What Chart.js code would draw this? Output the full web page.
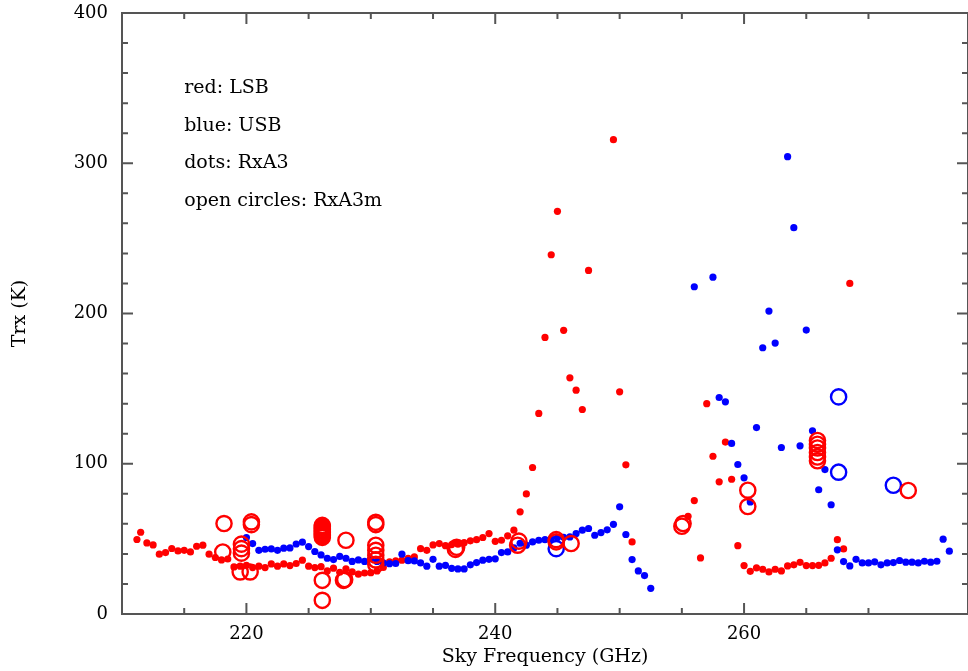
<!DOCTYPE html>
<html><head><meta charset="utf-8">
<script src="https://cdn.jsdelivr.net/npm/chart.js@4/dist/chart.umd.min.js"></script>
<style>html,body{margin:0;padding:0;background:#fff}canvas{display:block}</style>
</head><body>
<canvas id="c" width="968" height="671"></canvas>
<script>
// ---- data ----
const lsbDotFreq = [211.2,211.5,212,212.5,213,213.5,214,214.5,215,215.5,216,216.5,217,217.5,218,218.5,219,219.5,220,220.5,221,221.5,222,222.5,223,223.5,224,224.5,225,225.5,226,226.5,227,227.5,228,228.5,229,229.5,230,230.5,231,231.5,232,232.5,233,233.5,234,234.5,235,235.5,236,236.5,237,237.5,238,238.5,239,239.5,240,240.5,241,241.5,242,242.5,243,243.5,244,244.5,245,245.5,246,246.5,247,247.5,249.5,250,250.5,251,255.5,256,256.5,257,257.5,258,258.5,259,259.5,260,260.5,261,261.5,262,262.5,263,263.5,264,264.5,265,265.5,266,266.5,267,267.5,268,268.5];
const lsbDotTrx = [49.6,54.4,47.3,46.0,39.8,40.9,43.6,42.0,42.4,41.3,45.1,45.8,39.8,37.6,36.0,36.6,31.3,31.8,32.4,30.9,31.8,30.9,33.3,31.8,33.3,32.2,33.6,35.8,31.8,30.9,31.5,28.7,30.5,27.8,30.0,28.0,26.5,27.3,27.5,28.7,31.0,34.7,35.3,35.8,37.1,38.0,43.5,42.4,46.0,46.9,45.5,46.2,46.5,47.5,48.7,49.5,50.9,53.5,48.4,49.1,52.0,55.8,68.0,79.9,97.5,133.5,184.1,239.1,268.0,188.8,157.2,149.0,136.1,228.7,315.7,147.9,99.3,48.0,65.0,75.5,37.3,140.0,105.0,88.0,114.4,89.7,45.5,32.2,28.4,30.7,29.8,28.0,29.8,28.7,32.0,32.7,34.4,32.2,32.2,32.4,34.0,37.1,49.5,43.3,220.0];

const usbDotFreq = [220,220.5,221,221.5,222,222.5,223,223.5,224,224.5,225,225.5,226,226.5,227,227.5,228,228.5,229,229.5,230,230.5,231,231.5,232,232.5,233,233.5,234,234.5,235,235.5,236,236.5,237,237.5,238,238.5,239,239.5,240,240.5,241,241.5,242,242.5,243,243.5,244,244.5,245,245.5,246,246.5,247,247.5,248,248.5,249,249.5,250,250.5,251,251.5,252,252.5,256,257.5,258,258.5,259,259.5,260,260.5,261,261.5,262,262.5,263,263.5,264,264.5,265,265.5,266,266.5,267,267.5,268,268.5,269,269.5,270,270.5,271,271.5,272,272.5,273,273.5,274,274.5,275,275.5,276,276.5];
const usbDotTrx = [50.9,46.9,42.4,43.1,43.3,42.4,43.8,44.0,46.6,47.8,44.9,41.6,39.3,37.1,36.2,38.3,37.1,35.0,36.0,35.0,36.7,35.0,34.0,33.5,33.6,39.8,35.5,35.3,34.0,31.8,36.4,31.8,32.4,30.4,30.0,30.0,32.7,34.2,35.8,36.4,36.7,40.9,41.3,44.0,47.1,45.8,48.0,49.1,49.5,50.0,50.9,51.0,51.3,53.5,55.8,56.9,52.4,54.2,56.0,59.7,71.3,52.9,36.2,28.7,25.6,17.1,217.8,224.2,144.1,141.2,113.5,99.5,90.6,74.6,124.1,177.2,201.6,180.3,110.8,304.4,257.1,111.9,189.0,121.9,82.7,96.1,72.7,42.7,34.9,32.0,36.4,34.0,34.0,34.7,32.7,34.0,34.2,35.6,34.5,34.5,34.0,35.1,34.5,35.1,49.8,41.8];

const lsbCircleFreq = [218.2,218.1,219.6,219.6,219.6,219.5,220.4,220.4,220.3,226.1,226.1,226.1,226.1,226.1,226.1,226.1,226.1,226.1,226.1,226.1,228.0,227.9,227.8,230.4,230.4,230.4,230.4,230.4,230.4,230.4,236.9,236.8,241.8,241.9,244.9,244.9,246.1,255.0,255.1,260.3,260.3,265.9,265.9,265.9,265.9,265.9,265.9,273.2];
const lsbCircleTrx = [60.2,41.3,46.5,43.5,40.5,28.0,61.3,59.5,28.0,59.0,58.0,57.0,56.0,55.0,54.0,53.0,52.0,51.0,22.4,9.1,49.1,22.9,22.4,61.0,59.5,45.8,42.4,39.1,36.0,33.0,44.4,43.0,45.8,48.5,49.5,48.0,46.9,58.4,60.2,82.4,71.5,115.5,113.0,110.5,107.5,104.5,102.0,82.2];

const usbCircleFreq = [244.9,267.6,267.6,272.0];
const usbCircleTrx = [43.5,144.5,94.4,85.7];

const noteLines = ['red: LSB','blue: USB','dots: RxA3','open circles: RxA3m'];
const noteX = 215;
const noteY = [350,325,300,275];

// ---- helpers ----
const pts = (xs, ys) => xs.map((v, i) => ({x: v, y: ys[i]}));
const RED = '#ff0000', BLUE = '#0000ff', AXIS = '#555555';
const FONT = '"DejaVu Serif", "Liberation Serif", serif';

const framePlugin = {
  id: 'frame',
  afterDraw(chart) {
    const {ctx, chartArea: a, scales: {x, y}} = chart;
    ctx.save();
    ctx.strokeStyle = AXIS;
    ctx.lineWidth = 2;
    ctx.strokeRect(a.left, a.top, a.right - a.left, a.bottom - a.top);
    ctx.beginPath();
    x.ticks.forEach(t => {
      if (t.value % 5 !== 0) return;
      const px = x.getPixelForValue(t.value);
      const len = t.value % 20 === 0 ? 11 : 6;
      ctx.moveTo(px, a.bottom); ctx.lineTo(px, a.bottom - len);
      ctx.moveTo(px, a.top); ctx.lineTo(px, a.top + len);
    });
    y.ticks.forEach(t => {
      const py = y.getPixelForValue(t.value);
      const len = t.value % 100 === 0 ? 11 : 6;
      ctx.moveTo(a.left, py); ctx.lineTo(a.left + len, py);
      ctx.moveTo(a.right, py); ctx.lineTo(a.right - len, py);
    });
    ctx.stroke();
    ctx.fillStyle = '#000';
    ctx.font = '19px ' + FONT;
    ctx.textBaseline = 'middle';
    ctx.textAlign = 'left';
    noteLines.forEach((s, i) => ctx.fillText(s, x.getPixelForValue(noteX), y.getPixelForValue(noteY[i])));
    ctx.restore();
  }
};

new Chart(document.getElementById('c'), {
  type: 'scatter',
  data: {
    datasets: [
      {label: 'LSB RxA3', data: pts(lsbDotFreq, lsbDotTrx), backgroundColor: RED, borderWidth: 0, pointRadius: 3.6, order: 4},
      {label: 'USB RxA3', data: pts(usbDotFreq, usbDotTrx), backgroundColor: BLUE, borderWidth: 0, pointRadius: 3.6, order: 3},
      {label: 'USB RxA3m', data: pts(usbCircleFreq, usbCircleTrx), backgroundColor: 'rgba(0,0,0,0)', borderColor: BLUE, borderWidth: 2.4, pointRadius: 7.6, order: 2},
      {label: 'LSB RxA3m', data: pts(lsbCircleFreq, lsbCircleTrx), backgroundColor: 'rgba(0,0,0,0)', borderColor: RED, borderWidth: 2.4, pointRadius: 7.6, order: 1}
    ]
  },
  options: {
    responsive: false,
    animation: false,
    devicePixelRatio: 1,
    layout: {autoPadding: false, padding: {top: 13, right: 0, left: 0, bottom: 0}},
    plugins: {legend: {display: false}, tooltip: {enabled: false}},
    elements: {point: {hoverRadius: 0}},
    scales: {
      x: {
        type: 'linear', min: 210, max: 278,
        grid: {display: false, drawTicks: false},
        border: {display: false},
        ticks: {stepSize: 5, autoSkip: false, maxRotation: 0, padding: 10, color: '#000',
          font: {family: FONT, size: 18},
          callback: v => (v % 20 === 0 ? String(v) : '')},
        title: {display: true, text: 'Sky Frequency (GHz)', color: '#000', font: {family: FONT, size: 19}, padding: {top: 0, bottom: 3}},
        afterFit: s => { s.height = 57; s.paddingLeft = 0; s.paddingRight = 0; }
      },
      y: {
        type: 'linear', min: 0, max: 400,
        grid: {display: false, drawTicks: false},
        border: {display: false},
        ticks: {stepSize: 20, autoSkip: false, padding: 14, color: '#000',
          font: {family: FONT, size: 18},
          callback: v => (v % 100 === 0 ? String(v) : '')},
        title: {display: true, text: 'Trx (K)', color: '#000', font: {family: FONT, size: 19}, padding: {top: 9, bottom: 0}},
        afterFit: s => { s.width = 122; s.paddingTop = 0; s.paddingBottom = 0; }
      }
    }
  },
  plugins: [framePlugin]
});
</script>
</body></html>
